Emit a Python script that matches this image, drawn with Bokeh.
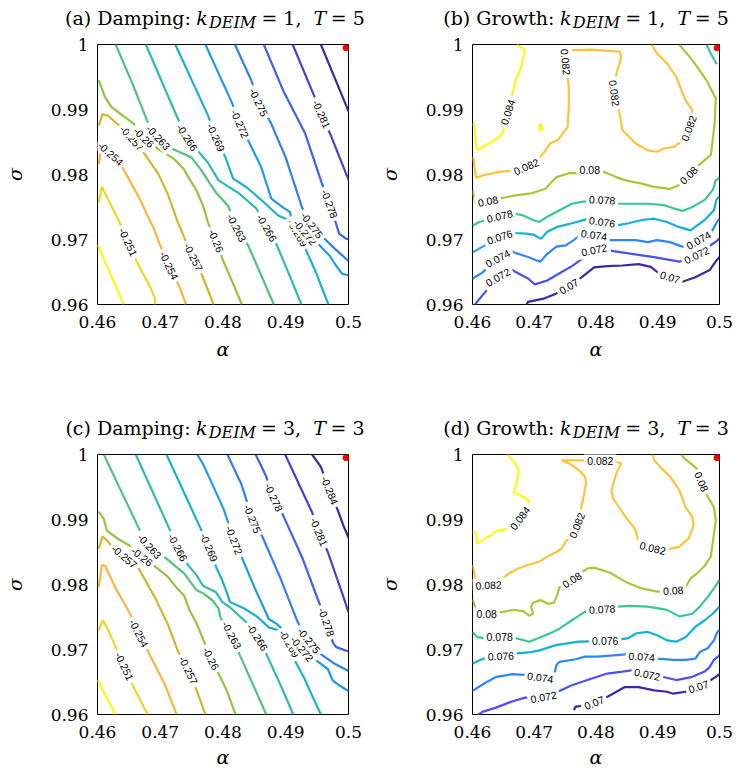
import math
from bokeh.plotting import figure
from bokeh.models import Label, FixedTicker, Range1d, ColumnDataSource, NumeralTickFormatter
from bokeh.layouts import column, row
from bokeh.embed import file_html
from bokeh.resources import INLINE

# ---------------- axes / ticks ----------------
X_RANGE = (0.46, 0.5)
Y_RANGE = (0.96, 1.0)
X_TICKS = [0.46, 0.47, 0.48, 0.49, 0.5]
X_TICK_LABELS = ["0.46", "0.47", "0.48", "0.49", "0.5"]
Y_TICKS = [0.96, 0.97, 0.98, 0.99, 1.0]
Y_TICK_LABELS = ["0.96", "0.97", "0.98", "0.99", "1"]
X_LABEL = "α"
Y_LABEL = "σ"

# ---------------- contour levels / colours ----------------
DAMP_LEVELS = [-0.284, -0.281, -0.278, -0.275, -0.272, -0.269, -0.266,
               -0.263, -0.26, -0.257, -0.254, -0.251, -0.248]
DAMP_COLORS = ["#3d2ba6", "#483fd4", "#4060f0", "#2f80f3", "#1f9ce8", "#18b2cc",
               "#2ebea5", "#4ec57f", "#93c53f", "#cdb92b", "#fbb43c", "#f4d325", "#f8fa12"]
GROW_LEVELS = [0.07, 0.072, 0.074, 0.076, 0.078, 0.08, 0.082, 0.084]
GROW_COLORS = ["#3e26a8", "#4752f0", "#2d87f7", "#12b1d6", "#37c897", "#abc739",
               "#fec338", "#f9fb15"]

# marked point (red dot)
MARK_ALPHA = [0.4996]
MARK_SIGMA = [0.9995]

# ---------------- panel (a): damping, k=1, T=5 ----------------
A_284 = [(0.4956, 1.0000), (0.4995, 0.9909), (0.5000, 0.9897)]
A_281 = [(0.4911, 1.0000), (0.4944, 0.9924), (0.4957, 0.9893), (0.4971, 0.9862), (0.4995, 0.9804), (0.5000, 0.9792)]
A_278 = [(0.4865, 1.0000), (0.4896, 0.9929), (0.4931, 0.9863), (0.4957, 0.9788), (0.4970, 0.9755), (0.4980, 0.9725),
         (0.4985, 0.9709), (0.4995, 0.9702), (0.5000, 0.9700)]
A_275 = [(0.4819, 1.0000), (0.4845, 0.9945), (0.4857, 0.9911), (0.4876, 0.9880), (0.4900, 0.9826), (0.4926, 0.9749),
         (0.4942, 0.9722), (0.4965, 0.9698), (0.4978, 0.9686), (0.5000, 0.9667)]
A_272 = [(0.4772, 1.0000), (0.4814, 0.9911), (0.4827, 0.9878), (0.4842, 0.9849), (0.4861, 0.9811), (0.4877, 0.9763),
         (0.4896, 0.9749), (0.4907, 0.9742), (0.4908, 0.9734), (0.4931, 0.9711), (0.4953, 0.9692), (0.4970, 0.9675),
         (0.4980, 0.9660), (0.4990, 0.9647), (0.5000, 0.9645)]
A_269 = [(0.4724, 1.0000), (0.4776, 0.9891), (0.4789, 0.9857), (0.4804, 0.9826), (0.4816, 0.9794), (0.4838, 0.9780),
         (0.4862, 0.9760), (0.4888, 0.9737), (0.4907, 0.9729), (0.4919, 0.9710), (0.4929, 0.9691), (0.4947, 0.9652),
         (0.4968, 0.9600)]
A_266 = [(0.4677, 1.0000), (0.4727, 0.9888), (0.4743, 0.9857), (0.4762, 0.9834), (0.4776, 0.9818), (0.4793, 0.9791),
         (0.4824, 0.9772), (0.4853, 0.9748), (0.4870, 0.9718), (0.4886, 0.9691), (0.4905, 0.9647), (0.4925, 0.9600)]
A_263 = [(0.4629, 1.0000), (0.4656, 0.9939), (0.4679, 0.9883), (0.4697, 0.9857), (0.4721, 0.9839), (0.4750, 0.9826),
         (0.4766, 0.9806), (0.4778, 0.9788), (0.4789, 0.9772), (0.4808, 0.9752), (0.4822, 0.9718), (0.4840, 0.9691),
         (0.4860, 0.9647), (0.4881, 0.9600)]
A_260 = [(0.4602, 0.9945), (0.4612, 0.9919), (0.4622, 0.9904), (0.4640, 0.9891), (0.4658, 0.9878), (0.4674, 0.9857),
         (0.4697, 0.9839), (0.4722, 0.9824), (0.4737, 0.9809), (0.4748, 0.9791), (0.4758, 0.9775), (0.4769, 0.9750),
         (0.4776, 0.9726), (0.4789, 0.9698), (0.4799, 0.9670), (0.4814, 0.9637), (0.4830, 0.9600)]
A_257 = [(0.4602, 0.9875), (0.4608, 0.9893), (0.4617, 0.9890), (0.4635, 0.9875), (0.4655, 0.9856), (0.4677, 0.9829),
         (0.4697, 0.9801), (0.4712, 0.9770), (0.4727, 0.9729), (0.4743, 0.9692), (0.4753, 0.9673), (0.4768, 0.9642),
         (0.4785, 0.9600)]
A_254 = [(0.4602, 0.9816), (0.4606, 0.9843), (0.4621, 0.9832), (0.4638, 0.9814), (0.4666, 0.9765), (0.4691, 0.9714),
         (0.4699, 0.9693), (0.4714, 0.9660), (0.4730, 0.9629), (0.4741, 0.9600)]
A_251 = [(0.4602, 0.9757), (0.4607, 0.9781), (0.4612, 0.9771), (0.4635, 0.9727), (0.4649, 0.9696), (0.4663, 0.9665),
         (0.4684, 0.9627), (0.4691, 0.9611), (0.4692, 0.9600)]
A_248 = [(0.4600, 0.9692), (0.4642, 0.9600)]
A_LINES = [(-0.284, A_284), (-0.281, A_281), (-0.278, A_278), (-0.275, A_275), (-0.272, A_272),
           (-0.269, A_269), (-0.266, A_266), (-0.263, A_263), (-0.26, A_260), (-0.257, A_257),
           (-0.254, A_254), (-0.251, A_251), (-0.248, A_248)]
# (level, alpha, sigma, angle in degrees)
A_LABELS = [(-0.251, 0.4649, 0.9696, -65), (-0.254, 0.4621, 0.9832, -42), (-0.254, 0.4714, 0.9660, -64),
            (-0.257, 0.4655, 0.9856, -48), (-0.257, 0.4753, 0.9673, -63), (-0.26, 0.4674, 0.9857, -45),
            (-0.26, 0.4789, 0.9698, -68), (-0.263, 0.4697, 0.9857, -47), (-0.263, 0.4822, 0.9718, -63),
            (-0.266, 0.4743, 0.9857, -57), (-0.266, 0.4870, 0.9718, -60), (-0.269, 0.4789, 0.9857, -66),
            (-0.269, 0.4919, 0.9710, -60), (-0.272, 0.4827, 0.9878, -66), (-0.272, 0.4931, 0.9711, -50),
            (-0.275, 0.4857, 0.9911, -65), (-0.275, 0.4942, 0.9722, -53), (-0.278, 0.4970, 0.9755, -70),
            (-0.281, 0.4957, 0.9893, -66)]

# ---------------- panel (b): growth, k=1, T=5 ----------------
B_084 = [(0.4672, 1.0000), (0.4685, 0.9992), (0.4682, 0.9978), (0.4677, 0.9961), (0.4669, 0.9943), (0.4667, 0.9932),
         (0.4662, 0.9917), (0.4657, 0.9896), (0.4652, 0.9876), (0.4648, 0.9862), (0.4636, 0.9853), (0.4618, 0.9843),
         (0.4609, 0.9837), (0.4606, 0.9844), (0.4603, 0.9876), (0.4600, 0.9878)]
B_084_ISLAND = [(0.4709, 0.9878), (0.4712, 0.9875), (0.4713, 0.9868), (0.4709, 0.9867), (0.4708, 0.9872), (0.4709, 0.9878)]
B_082 = [(0.4601, 0.9827), (0.4603, 0.9812), (0.4606, 0.9795), (0.4618, 0.9799), (0.4644, 0.9804), (0.4664, 0.9806),
         (0.4687, 0.9812), (0.4708, 0.9825), (0.4718, 0.9837), (0.4726, 0.9848), (0.4738, 0.9853), (0.4746, 0.9863),
         (0.4754, 0.9873), (0.4756, 0.9904), (0.4756, 0.9935), (0.4754, 0.9950), (0.4751, 0.9973), (0.4754, 0.9991),
         (0.4792, 0.9992), (0.4838, 0.9989), (0.4841, 0.9981), (0.4838, 0.9971), (0.4833, 0.9955), (0.4830, 0.9925),
         (0.4838, 0.9894), (0.4843, 0.9868), (0.4864, 0.9848), (0.4884, 0.9837), (0.4899, 0.9835), (0.4910, 0.9840),
         (0.4927, 0.9843), (0.4940, 0.9853), (0.4950, 0.9871), (0.4956, 0.9899), (0.4945, 0.9914), (0.4930, 0.9950),
         (0.4915, 0.9971), (0.4899, 0.9986), (0.4890, 1.0000)]
B_080 = [(0.4600, 0.9775), (0.4605, 0.9755), (0.4625, 0.9759), (0.4644, 0.9763), (0.4669, 0.9768), (0.4695, 0.9771),
         (0.4718, 0.9778), (0.4726, 0.9786), (0.4736, 0.9796), (0.4756, 0.9802), (0.4769, 0.9802), (0.4790, 0.9807),
         (0.4813, 0.9804), (0.4833, 0.9796), (0.4848, 0.9791), (0.4874, 0.9786), (0.4894, 0.9781), (0.4920, 0.9778),
         (0.4935, 0.9784), (0.4950, 0.9799), (0.4966, 0.9814), (0.4976, 0.9822), (0.4986, 0.9830), (0.4989, 0.9853),
         (0.4992, 0.9878), (0.4994, 0.9917), (0.4979, 0.9945), (0.4956, 0.9976), (0.4940, 0.9994), (0.4935, 1.0000)]
B_078 = [(0.4600, 0.9721), (0.4611, 0.9727), (0.4644, 0.9736), (0.4667, 0.9740), (0.4682, 0.9737), (0.4698, 0.9730),
         (0.4708, 0.9727), (0.4721, 0.9735), (0.4741, 0.9745), (0.4761, 0.9755), (0.4777, 0.9758), (0.4810, 0.9761),
         (0.4836, 0.9755), (0.4853, 0.9755), (0.4884, 0.9755), (0.4910, 0.9753), (0.4925, 0.9748), (0.4940, 0.9744),
         (0.4956, 0.9750), (0.4976, 0.9761), (0.4989, 0.9776), (0.4994, 0.9791), (0.5000, 0.9795)]
B_078_CORNER = [(0.4979, 1.0000), (0.4986, 0.9986), (0.4994, 0.9972), (0.4996, 0.9970)]
B_076 = [(0.4600, 0.9680), (0.4611, 0.9686), (0.4644, 0.9704), (0.4667, 0.9710), (0.4687, 0.9709), (0.4700, 0.9707),
         (0.4711, 0.9701), (0.4721, 0.9712), (0.4736, 0.9719), (0.4761, 0.9725), (0.4784, 0.9731), (0.4810, 0.9727),
         (0.4836, 0.9722), (0.4853, 0.9725), (0.4874, 0.9730), (0.4894, 0.9732), (0.4915, 0.9727), (0.4935, 0.9719),
         (0.4953, 0.9714), (0.4976, 0.9730), (0.4991, 0.9745), (0.4995, 0.9761), (0.5000, 0.9766)]
B_074 = [(0.4600, 0.9640), (0.4616, 0.9649), (0.4641, 0.9671), (0.4664, 0.9681), (0.4690, 0.9673), (0.4703, 0.9668),
         (0.4710, 0.9666), (0.4721, 0.9678), (0.4736, 0.9689), (0.4751, 0.9691), (0.4764, 0.9699), (0.4772, 0.9705),
         (0.4797, 0.9707), (0.4823, 0.9699), (0.4843, 0.9699), (0.4864, 0.9699), (0.4884, 0.9696), (0.4899, 0.9699),
         (0.4920, 0.9696), (0.4940, 0.9689), (0.4966, 0.9699), (0.4989, 0.9715), (0.4996, 0.9727), (0.5000, 0.9732)]
B_072 = [(0.4603, 0.9599), (0.4616, 0.9614), (0.4641, 0.9642), (0.4664, 0.9653), (0.4690, 0.9640), (0.4701, 0.9631),
         (0.4721, 0.9637), (0.4741, 0.9648), (0.4761, 0.9659), (0.4774, 0.9668), (0.4797, 0.9684), (0.4823, 0.9683),
         (0.4858, 0.9678), (0.4894, 0.9673), (0.4935, 0.9666), (0.4963, 0.9676), (0.4984, 0.9690), (0.4996, 0.9698),
         (0.5000, 0.9702)]
B_070 = [(0.4687, 0.9599), (0.4690, 0.9604), (0.4715, 0.9609), (0.4736, 0.9617), (0.4756, 0.9628), (0.4777, 0.9642),
         (0.4797, 0.9657), (0.4818, 0.9659), (0.4843, 0.9660), (0.4869, 0.9662), (0.4889, 0.9658), (0.4899, 0.9650),
         (0.4920, 0.9642), (0.4940, 0.9635), (0.4961, 0.9642), (0.4984, 0.9653), (0.4996, 0.9669), (0.5000, 0.9673)]
B_LINES = [(0.084, B_084), (0.084, B_084_ISLAND), (0.082, B_082), (0.08, B_080), (0.078, B_078),
           (0.078, B_078_CORNER), (0.076, B_076), (0.074, B_074), (0.072, B_072), (0.07, B_070)]
B_LABELS = [(0.084, 0.4657, 0.9896, 72), (0.082, 0.4687, 0.9812, 23), (0.082, 0.4751, 0.9973, -85),
            (0.082, 0.4830, 0.9925, -82), (0.082, 0.4950, 0.9871, 70), (0.08, 0.4625, 0.9759, 11),
            (0.08, 0.4790, 0.9807, 0), (0.08, 0.4950, 0.9799, 45), (0.078, 0.4644, 0.9736, 13),
            (0.078, 0.4810, 0.9761, -3), (0.076, 0.4644, 0.9704, 18), (0.076, 0.4810, 0.9727, -8),
            (0.074, 0.4641, 0.9671, 28), (0.074, 0.4797, 0.9707, -8), (0.074, 0.4966, 0.9699, 29),
            (0.072, 0.4641, 0.9642, 30), (0.072, 0.4797, 0.9684, 12), (0.072, 0.4963, 0.9676, 26),
            (0.07, 0.4756, 0.9628, 30), (0.07, 0.4920, 0.9642, -17)]

# ---------------- panel (c): damping, k=3, T=3 ----------------
C_284 = [(0.4942, 1.0000), (0.4956, 0.9981), (0.4970, 0.9945), (0.4983, 0.9914), (0.4993, 0.9888), (0.5000, 0.9872)]
C_281 = [(0.4899, 1.0000), (0.4942, 0.9911), (0.4953, 0.9881), (0.4967, 0.9850), (0.4993, 0.9778), (0.5000, 0.9757)]
C_278 = [(0.4852, 1.0000), (0.4868, 0.9968), (0.4881, 0.9934), (0.4896, 0.9906), (0.4926, 0.9842), (0.4952, 0.9775),
         (0.4965, 0.9742), (0.4975, 0.9711), (0.4980, 0.9704), (0.4988, 0.9701), (0.5000, 0.9697)]
C_275 = [(0.4807, 1.0000), (0.4829, 0.9955), (0.4847, 0.9901), (0.4863, 0.9873), (0.4891, 0.9811), (0.4919, 0.9742),
         (0.4937, 0.9714), (0.4957, 0.9692), (0.4978, 0.9678), (0.5000, 0.9667)]
C_272 = [(0.4759, 1.0000), (0.4768, 0.9986), (0.4801, 0.9916), (0.4818, 0.9868), (0.4832, 0.9837), (0.4850, 0.9796),
         (0.4873, 0.9747), (0.4886, 0.9739), (0.4903, 0.9724), (0.4926, 0.9701), (0.4949, 0.9683), (0.4967, 0.9670),
         (0.4975, 0.9652), (0.4985, 0.9645), (0.5000, 0.9636)]
C_269 = [(0.4710, 1.0000), (0.4762, 0.9891), (0.4778, 0.9857), (0.4789, 0.9827), (0.4799, 0.9806), (0.4806, 0.9788),
         (0.4811, 0.9773), (0.4834, 0.9763), (0.4855, 0.9750), (0.4873, 0.9734), (0.4898, 0.9727), (0.4906, 0.9709),
         (0.4914, 0.9684), (0.4929, 0.9657), (0.4942, 0.9629), (0.4956, 0.9600)]
C_266 = [(0.4661, 1.0000), (0.4712, 0.9891), (0.4728, 0.9857), (0.4745, 0.9829), (0.4758, 0.9814), (0.4768, 0.9798),
         (0.4789, 0.9788), (0.4799, 0.9773), (0.4811, 0.9765), (0.4837, 0.9742), (0.4855, 0.9719), (0.4870, 0.9691),
         (0.4891, 0.9647), (0.4912, 0.9600)]
C_263 = [(0.4610, 1.0000), (0.4640, 0.9939), (0.4666, 0.9886), (0.4683, 0.9859), (0.4707, 0.9842), (0.4727, 0.9826),
         (0.4738, 0.9817), (0.4758, 0.9791), (0.4769, 0.9786), (0.4784, 0.9775), (0.4793, 0.9763), (0.4796, 0.9749),
         (0.4814, 0.9722), (0.4827, 0.9691), (0.4845, 0.9652), (0.4869, 0.9600)]
C_260 = [(0.4602, 0.9912), (0.4610, 0.9901), (0.4615, 0.9883), (0.4633, 0.9870), (0.4651, 0.9860), (0.4671, 0.9843),
         (0.4690, 0.9829), (0.4712, 0.9812), (0.4727, 0.9794), (0.4738, 0.9783), (0.4747, 0.9760), (0.4758, 0.9740),
         (0.4769, 0.9714), (0.4781, 0.9686), (0.4796, 0.9657), (0.4806, 0.9637), (0.4820, 0.9600)]
C_257 = [(0.4602, 0.9855), (0.4608, 0.9874), (0.4615, 0.9868), (0.4621, 0.9861), (0.4643, 0.9843), (0.4666, 0.9824),
         (0.4691, 0.9781), (0.4712, 0.9739), (0.4728, 0.9698), (0.4745, 0.9668), (0.4758, 0.9637), (0.4772, 0.9600)]
C_254 = [(0.4602, 0.9796), (0.4607, 0.9830), (0.4612, 0.9829), (0.4628, 0.9796), (0.4652, 0.9755), (0.4666, 0.9725),
         (0.4681, 0.9696), (0.4707, 0.9647), (0.4726, 0.9600)]
C_251 = [(0.4602, 0.9729), (0.4608, 0.9745), (0.4615, 0.9734), (0.4628, 0.9706), (0.4643, 0.9674), (0.4656, 0.9645),
         (0.4680, 0.9600)]
C_248 = [(0.4600, 0.9653), (0.4629, 0.9600)]
C_LINES = [(-0.284, C_284), (-0.281, C_281), (-0.278, C_278), (-0.275, C_275), (-0.272, C_272),
           (-0.269, C_269), (-0.266, C_266), (-0.263, C_263), (-0.26, C_260), (-0.257, C_257),
           (-0.254, C_254), (-0.251, C_251), (-0.248, C_248)]
C_LABELS = [(-0.251, 0.4643, 0.9674, -65), (-0.254, 0.4666, 0.9725, -63), (-0.257, 0.4643, 0.9843, -40),
            (-0.257, 0.4745, 0.9668, -64), (-0.26, 0.4671, 0.9843, -38), (-0.26, 0.4781, 0.9686, -64),
            (-0.263, 0.4683, 0.9859, -47), (-0.263, 0.4814, 0.9722, -62), (-0.266, 0.4728, 0.9857, -62),
            (-0.266, 0.4855, 0.9719, -57), (-0.269, 0.4778, 0.9857, -67), (-0.269, 0.4906, 0.9709, -60),
            (-0.272, 0.4818, 0.9868, -69), (-0.272, 0.4926, 0.9701, -50), (-0.275, 0.4847, 0.9901, -68),
            (-0.275, 0.4937, 0.9714, -52), (-0.278, 0.4881, 0.9934, -65), (-0.278, 0.4965, 0.9742, -70),
            (-0.281, 0.4953, 0.9881, -68), (-0.284, 0.4970, 0.9945, -68)]

# ---------------- panel (d): growth, k=3, T=3 ----------------
D_084 = [(0.4657, 1.0000), (0.4669, 0.9987), (0.4675, 0.9976), (0.4672, 0.9958), (0.4667, 0.9941), (0.4682, 0.9935),
         (0.4692, 0.9929), (0.4689, 0.9924), (0.4677, 0.9902), (0.4659, 0.9886), (0.4639, 0.9883), (0.4629, 0.9876),
         (0.4608, 0.9863), (0.4606, 0.9878), (0.4603, 0.9881), (0.4600, 0.9881)]
D_082 = [(0.4600, 0.9830), (0.4603, 0.9817), (0.4606, 0.9803), (0.4626, 0.9799), (0.4646, 0.9807), (0.4659, 0.9817),
         (0.4675, 0.9825), (0.4690, 0.9830), (0.4708, 0.9835), (0.4721, 0.9843), (0.4736, 0.9850), (0.4744, 0.9855),
         (0.4751, 0.9866), (0.4756, 0.9871), (0.4769, 0.9891), (0.4777, 0.9922), (0.4781, 0.9940), (0.4784, 0.9958),
         (0.4782, 0.9966), (0.4772, 0.9976), (0.4759, 0.9985), (0.4744, 0.9991), (0.4782, 0.9991), (0.4807, 0.9990),
         (0.4833, 0.9989), (0.4841, 0.9986), (0.4833, 0.9971), (0.4828, 0.9955), (0.4825, 0.9945), (0.4828, 0.9932),
         (0.4833, 0.9925), (0.4848, 0.9904), (0.4864, 0.9884), (0.4868, 0.9869), (0.4892, 0.9856), (0.4915, 0.9854),
         (0.4935, 0.9858), (0.4950, 0.9871), (0.4958, 0.9891), (0.4956, 0.9904), (0.4945, 0.9919), (0.4935, 0.9945),
         (0.4920, 0.9966), (0.4904, 0.9981), (0.4894, 0.9991), (0.4892, 1.0000)]
D_080 = [(0.4600, 0.9777), (0.4604, 0.9766), (0.4607, 0.9753), (0.4623, 0.9754), (0.4644, 0.9757), (0.4667, 0.9761),
         (0.4682, 0.9759), (0.4692, 0.9752), (0.4698, 0.9755), (0.4695, 0.9766), (0.4698, 0.9772), (0.4710, 0.9776),
         (0.4723, 0.9770), (0.4732, 0.9772), (0.4736, 0.9781), (0.4741, 0.9796), (0.4761, 0.9807), (0.4772, 0.9816),
         (0.4787, 0.9825), (0.4797, 0.9826), (0.4823, 0.9818), (0.4848, 0.9804), (0.4874, 0.9794), (0.4899, 0.9789),
         (0.4925, 0.9791), (0.4945, 0.9796), (0.4953, 0.9809), (0.4966, 0.9819), (0.4976, 0.9829), (0.4986, 0.9843),
         (0.4991, 0.9878), (0.4994, 0.9899), (0.4991, 0.9919), (0.4981, 0.9935), (0.4971, 0.9958), (0.4966, 0.9976),
         (0.4956, 0.9984), (0.4943, 0.9994), (0.4938, 1.0000)]
D_078 = [(0.4600, 0.9727), (0.4608, 0.9719), (0.4616, 0.9718), (0.4644, 0.9719), (0.4672, 0.9717), (0.4692, 0.9712),
         (0.4705, 0.9717), (0.4726, 0.9725), (0.4741, 0.9732), (0.4761, 0.9745), (0.4782, 0.9758), (0.4810, 0.9762),
         (0.4836, 0.9766), (0.4853, 0.9767), (0.4884, 0.9766), (0.4915, 0.9761), (0.4935, 0.9751), (0.4956, 0.9755),
         (0.4968, 0.9766), (0.4981, 0.9781), (0.4991, 0.9794), (0.5000, 0.9807)]
D_076 = [(0.4600, 0.9678), (0.4606, 0.9681), (0.4618, 0.9686), (0.4646, 0.9690), (0.4672, 0.9694), (0.4695, 0.9696),
         (0.4710, 0.9699), (0.4726, 0.9704), (0.4736, 0.9707), (0.4751, 0.9709), (0.4772, 0.9712), (0.4815, 0.9713),
         (0.4851, 0.9717), (0.4866, 0.9725), (0.4884, 0.9727), (0.4899, 0.9722), (0.4915, 0.9714), (0.4930, 0.9712),
         (0.4945, 0.9719), (0.4961, 0.9735), (0.4976, 0.9745), (0.4989, 0.9755), (0.5000, 0.9766)]
D_074 = [(0.4600, 0.9637), (0.4603, 0.9638), (0.4623, 0.9650), (0.4639, 0.9658), (0.4664, 0.9662), (0.4685, 0.9661),
         (0.4710, 0.9657), (0.4733, 0.9664), (0.4736, 0.9676), (0.4741, 0.9681), (0.4767, 0.9685), (0.4782, 0.9689),
         (0.4802, 0.9689), (0.4828, 0.9691), (0.4853, 0.9693), (0.4874, 0.9689), (0.4899, 0.9686), (0.4925, 0.9684),
         (0.4945, 0.9684), (0.4961, 0.9686), (0.4968, 0.9696), (0.4981, 0.9702), (0.4991, 0.9714), (0.4996, 0.9726),
         (0.5000, 0.9730)]
D_072 = [(0.4608, 0.9599), (0.4616, 0.9604), (0.4639, 0.9611), (0.4664, 0.9620), (0.4685, 0.9626), (0.4715, 0.9627),
         (0.4738, 0.9635), (0.4761, 0.9645), (0.4792, 0.9655), (0.4818, 0.9663), (0.4843, 0.9666), (0.4858, 0.9668),
         (0.4883, 0.9662), (0.4907, 0.9658), (0.4930, 0.9653), (0.4956, 0.9658), (0.4976, 0.9666), (0.4984, 0.9673),
         (0.4991, 0.9684), (0.4996, 0.9688), (0.5000, 0.9691)]
D_070 = [(0.4764, 0.9607), (0.4767, 0.9612), (0.4774, 0.9613), (0.4797, 0.9618), (0.4818, 0.9627), (0.4833, 0.9635),
         (0.4846, 0.9642), (0.4869, 0.9642), (0.4894, 0.9637), (0.4915, 0.9635), (0.4925, 0.9632), (0.4945, 0.9635),
         (0.4966, 0.9643), (0.4986, 0.9653), (0.4996, 0.9659), (0.5000, 0.9662)]
D_LINES = [(0.084, D_084), (0.082, D_082), (0.08, D_080), (0.078, D_078), (0.076, D_076),
           (0.074, D_074), (0.072, D_072), (0.07, D_070)]
D_LABELS = [(0.084, 0.4677, 0.9902, 53), (0.082, 0.4626, 0.9799, 3), (0.082, 0.4769, 0.9891, 68),
            (0.082, 0.4807, 0.9990, 0), (0.082, 0.4892, 0.9856, -14), (0.08, 0.4623, 0.9754, 0),
            (0.08, 0.4761, 0.9807, 33), (0.08, 0.4925, 0.9791, 3), (0.08, 0.4971, 0.9958, -68),
            (0.078, 0.4644, 0.9719, 0), (0.078, 0.4810, 0.9762, 4), (0.076, 0.4646, 0.9690, 2),
            (0.076, 0.4815, 0.9713, 0), (0.074, 0.4710, 0.9657, -8), (0.074, 0.4874, 0.9689, -4),
            (0.072, 0.4715, 0.9627, 10), (0.072, 0.4883, 0.9662, -12), (0.07, 0.4797, 0.9618, 22),
            (0.07, 0.4966, 0.9643, 18)]

# ---------------- titles ----------------
TITLE_PREFIX = ["(a) Damping: ", "(b) Growth: ", "(c) Damping: ", "(d) Growth: "]
K_DEIM = [1, 1, 3, 3]
T_VALUE = [5, 5, 3, 3]

# ---------------- styling ----------------
SERIF = "DejaVu Serif"
SANS = "Liberation Sans"
FRAME_W, FRAME_H = 261, 260
TITLE_SIZE = 19
SUB_SIZE = 16

# approximate DejaVu Serif advance widths (em)
ADV = {"(": 0.39, ")": 0.39, "a": 0.596, "b": 0.64, "c": 0.56, "d": 0.64, " ": 0.318, ":": 0.337,
       ",": 0.318, "=": 0.838, "1": 0.636, "3": 0.636, "5": 0.636, "D": 0.77, "m": 0.948, "p": 0.64,
       "i": 0.32, "n": 0.64, "g": 0.64, "G": 0.775, "r": 0.478, "o": 0.602, "w": 0.856, "t": 0.402,
       "h": 0.644, "k": 0.6, "E": 0.73, "I": 0.372, "M": 0.995, "T": 0.67}


def tw(s, size, style="normal"):
    w = sum(ADV.get(ch, 0.6) for ch in s) * size
    return w * 1.12 if style == "italic" else w


def make_title(idx, width, height, frame_left, baseline_from_top):
    t = figure(width=width, height=height, x_range=Range1d(0, width), y_range=Range1d(0, height),
               output_backend="svg", toolbar_location=None, title=None,
               x_axis_type=None, y_axis_type=None,
               min_border_left=0, min_border_right=0, min_border_top=0, min_border_bottom=0)
    t.grid.visible = False
    t.outline_line_color = None
    # (text, style, size, vertical shift, extra gap after)
    pieces = [(TITLE_PREFIX[idx], "normal", TITLE_SIZE, 0, 0),
              ("k", "italic", TITLE_SIZE, 0, 0),
              ("DEIM", "italic", SUB_SIZE, -5, 1),
              (" = %d," % K_DEIM[idx], "normal", TITLE_SIZE, 0, 0),
              (" ", "normal", TITLE_SIZE, 0, 0),
              ("T", "italic", TITLE_SIZE, 0, 3),
              (" = %d" % T_VALUE[idx], "normal", TITLE_SIZE, 0, 0)]
    total = sum(tw(s, sz, st) + gap for s, st, sz, dy, gap in pieces)
    x = frame_left + FRAME_W / 2 - total / 2
    base = height - baseline_from_top
    for s, st, sz, dy, gap in pieces:
        if s.strip():
            t.add_layout(Label(x=x, y=base + dy, text=s, text_font=SERIF, text_font_style=st,
                               text_font_size="%dpx" % sz, text_align="left",
                               text_baseline="alphabetic", text_color="black"))
        x += tw(s, sz, st) + gap
    return t


def make_panel(lines, labels, levels, colors, width, height, bl, br, bt, bb, xlabel_standoff):
    p = figure(width=width, height=height, x_range=Range1d(*X_RANGE), y_range=Range1d(*Y_RANGE),
               output_backend="svg", toolbar_location=None, title=None,
               min_border_left=bl, min_border_right=br, min_border_top=bt, min_border_bottom=bb)
    p.grid.visible = False
    p.outline_line_color = "black"
    p.outline_line_width = 1
    p.outline_line_alpha = 1.0

    p.xaxis.ticker = FixedTicker(ticks=X_TICKS)
    p.yaxis.ticker = FixedTicker(ticks=Y_TICKS)
    p.xaxis.formatter = NumeralTickFormatter(format="0.[00]")
    p.yaxis.formatter = NumeralTickFormatter(format="0.[00]")
    p.xaxis.major_label_overrides = dict(zip(X_TICKS, X_TICK_LABELS))
    p.yaxis.major_label_overrides = dict(zip(Y_TICKS, Y_TICK_LABELS))
    for ax in (p.xaxis[0], p.yaxis[0]):
        ax.axis_line_color = None
        ax.major_tick_line_color = None
        ax.minor_tick_line_color = None
        ax.major_tick_out = 0
        ax.major_tick_in = 0
        ax.minor_tick_out = 0
        ax.minor_tick_in = 0
        ax.major_label_text_font = SERIF
        ax.major_label_text_font_size = "17px"
        ax.major_label_text_color = "black"
        ax.axis_label_text_font = SERIF
        ax.axis_label_text_font_style = "italic"
        ax.axis_label_text_font_size = "19px"
        ax.axis_label_text_color = "black"
    p.xaxis.major_label_standoff = 11
    p.yaxis.major_label_standoff = 9
    p.xaxis.axis_label = X_LABEL
    p.yaxis.axis_label = Y_LABEL
    p.xaxis.axis_label_standoff = xlabel_standoff
    p.yaxis.axis_label_standoff = 22

    cmap = dict(zip(levels, colors))
    src = ColumnDataSource(dict(
        xs=[[pt[0] for pt in pts] for lev, pts in lines],
        ys=[[pt[1] for pt in pts] for lev, pts in lines],
        color=[cmap[lev] for lev, pts in lines],
    ))
    p.multi_line(xs="xs", ys="ys", line_color="color", line_width=2.2, source=src)

    for lev, a, s, ang in labels:
        p.add_layout(Label(x=a, y=s, text="%g" % lev, angle=math.radians(ang), angle_units="rad",
                           text_align="center", text_baseline="middle", text_font=SANS,
                           text_font_size="10.5px", text_color="black",
                           background_fill_color="white", background_fill_alpha=1.0, padding=3))

    p.scatter(MARK_ALPHA, MARK_SIGMA, size=6, color="red", line_color="red")
    return p


# layout (the page itself has no margin): frames at x 87-348 / 458-719, y 44-304 / 454-714
ta = make_title(0, 375, 33, 87, 17)
tb = make_title(1, 362, 33, 83, 17)
pa = make_panel(A_LINES, A_LABELS, DAMP_LEVELS, DAMP_COLORS, 375, 377, 87, 27, 11, 106, 7)
pb = make_panel(B_LINES, B_LABELS, GROW_LEVELS, GROW_COLORS, 362, 377, 83, 18, 11, 106, 7)
tc = make_title(2, 375, 33, 87, 17)
td = make_title(3, 362, 33, 83, 17)
pc = make_panel(C_LINES, C_LABELS, DAMP_LEVELS, DAMP_COLORS, 375, 327, 87, 27, 11, 56, 5)
pd = make_panel(D_LINES, D_LABELS, GROW_LEVELS, GROW_COLORS, 362, 327, 83, 18, 11, 56, 5)

layout = column(row(ta, tb), row(pa, pb), row(tc, td), row(pc, pd))
open("out.html", "w").write(file_html(layout, INLINE))
